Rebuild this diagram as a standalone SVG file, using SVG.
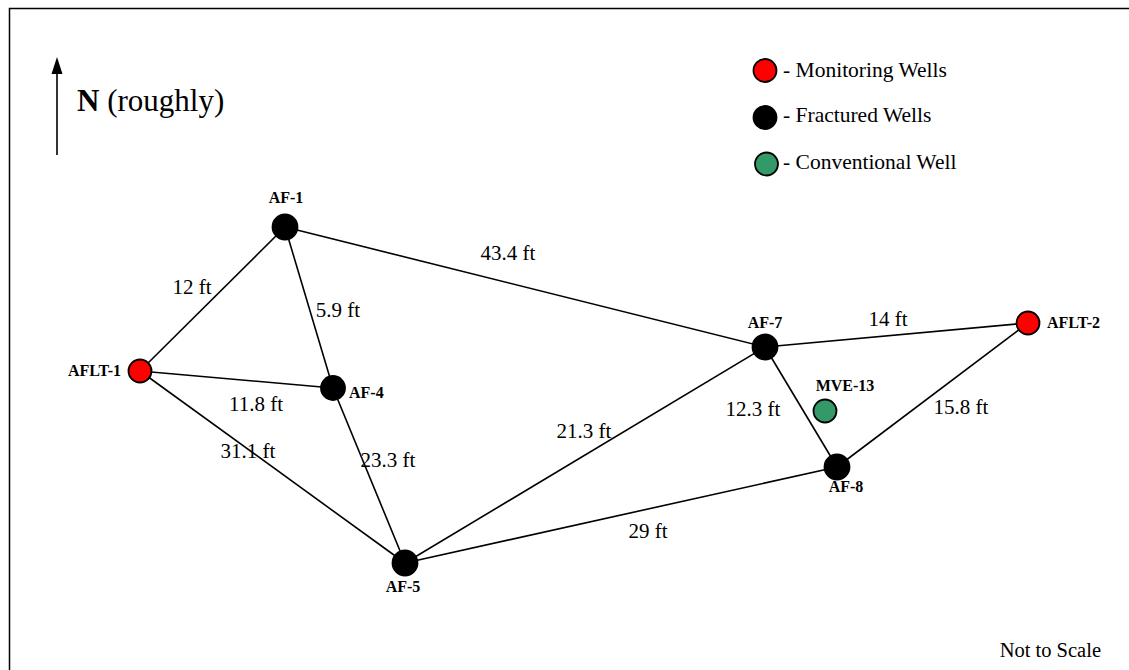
<svg xmlns="http://www.w3.org/2000/svg" width="1129" height="670" viewBox="0 0 1129 670">
  <style>
    .edge { stroke: #000; stroke-width: 1.6; fill: none; }
    .well { stroke: #000; stroke-width: 1.8; }
    .mon { fill: #ff0000; }
    .frac { fill: #000; }
    .conv { fill: #339966; }
    .name { font-family: "Liberation Serif", "Times New Roman", serif; font-size: 16px; font-weight: bold; fill: #000; }
    .dist { font-family: "Liberation Serif", "Times New Roman", serif; font-size: 21px; fill: #000; text-anchor: middle; }
    .legend { font-family: "Liberation Serif", "Times New Roman", serif; font-size: 21.5px; fill: #000; }
  </style>

  <rect width="1129" height="670" fill="#fff"/>
  <!-- frame -->
  <path d="M9.5,670 L9.5,8.5 L1129,8.5" fill="none" stroke="#000" stroke-width="1.5"/>

  <!-- north arrow -->
  <g id="north">
    <line x1="57" y1="155" x2="57" y2="68" stroke="#000" stroke-width="1.6"/>
    <path d="M51.5,74 L57,57 L62.5,74 Z" fill="#000"/>
    <text x="77" y="111" font-family="Liberation Serif, Times New Roman, serif" font-size="31"><tspan font-weight="bold">N</tspan> (roughly)</text>
  </g>

  <!-- legend -->
  <g id="legend">
    <circle class="well mon" cx="765" cy="70.5" r="11.5"/>
    <text class="legend" x="783" y="77">- Monitoring Wells</text>
    <circle class="well frac" cx="765" cy="117.5" r="11.5"/>
    <text class="legend" x="783" y="122">- Fractured Wells</text>
    <circle class="well conv" cx="766.5" cy="164" r="11.5"/>
    <text class="legend" x="783" y="169">- Conventional Well</text>
  </g>

  <!-- connectors -->
  <g id="connectors">
    <line class="edge" x1="140" y1="371" x2="285" y2="227"/>
    <line class="edge" x1="285" y1="227" x2="333" y2="388"/>
    <line class="edge" x1="140" y1="371" x2="333" y2="388"/>
    <line class="edge" x1="140" y1="371" x2="405" y2="563"/>
    <line class="edge" x1="333" y1="388" x2="405" y2="563"/>
    <line class="edge" x1="285" y1="227" x2="765" y2="347"/>
    <line class="edge" x1="405" y1="563" x2="765" y2="347"/>
    <line class="edge" x1="405" y1="563" x2="837" y2="467"/>
    <line class="edge" x1="765" y1="347" x2="1028" y2="323"/>
    <line class="edge" x1="765" y1="347" x2="837" y2="467"/>
    <line class="edge" x1="837" y1="467" x2="1028" y2="323"/>
  </g>

  <!-- distance labels -->
  <g id="distances">
    <text class="dist" x="192" y="294">12 ft</text>
    <text class="dist" x="338" y="317">5.9 ft</text>
    <text class="dist" x="508" y="260">43.4 ft</text>
    <text class="dist" x="256" y="411">11.8 ft</text>
    <text class="dist" x="248" y="458">31.1 ft</text>
    <text class="dist" x="388" y="467">23.3 ft</text>
    <text class="dist" x="584" y="438">21.3 ft</text>
    <text class="dist" x="888" y="326">14 ft</text>
    <text class="dist" x="753" y="416">12.3 ft</text>
    <text class="dist" x="961" y="414">15.8 ft</text>
    <text class="dist" x="648" y="538">29 ft</text>
  </g>

  <!-- wells -->
  <g id="AF-1">
    <circle class="well frac" cx="285" cy="227" r="12.5"/>
    <text class="name" x="286" y="203" text-anchor="middle">AF-1</text>
  </g>
  <g id="AFLT-1">
    <circle class="well mon" cx="140" cy="371" r="11.5"/>
    <text class="name" x="121" y="376" text-anchor="end">AFLT-1</text>
  </g>
  <g id="AF-4">
    <circle class="well frac" cx="333" cy="388" r="12"/>
    <text class="name" x="349" y="398">AF-4</text>
  </g>
  <g id="AF-5">
    <circle class="well frac" cx="405" cy="563" r="12.5"/>
    <text class="name" x="403" y="592" text-anchor="middle">AF-5</text>
  </g>
  <g id="AF-7">
    <circle class="well frac" cx="765" cy="347" r="12.5"/>
    <text class="name" x="765" y="328" text-anchor="middle">AF-7</text>
  </g>
  <g id="AFLT-2">
    <circle class="well mon" cx="1028" cy="323" r="11.5"/>
    <text class="name" x="1047" y="328">AFLT-2</text>
  </g>
  <g id="MVE-13">
    <circle class="well conv" cx="825" cy="411" r="11.5"/>
    <text class="name" x="845" y="391" text-anchor="middle">MVE-13</text>
  </g>
  <g id="AF-8">
    <circle class="well frac" cx="837" cy="467" r="12.5"/>
    <text class="name" x="846" y="492" text-anchor="middle">AF-8</text>
  </g>

  <text x="1101" y="657" text-anchor="end" font-family="Liberation Serif, Times New Roman, serif" font-size="20.5">Not to Scale</text>
</svg>
